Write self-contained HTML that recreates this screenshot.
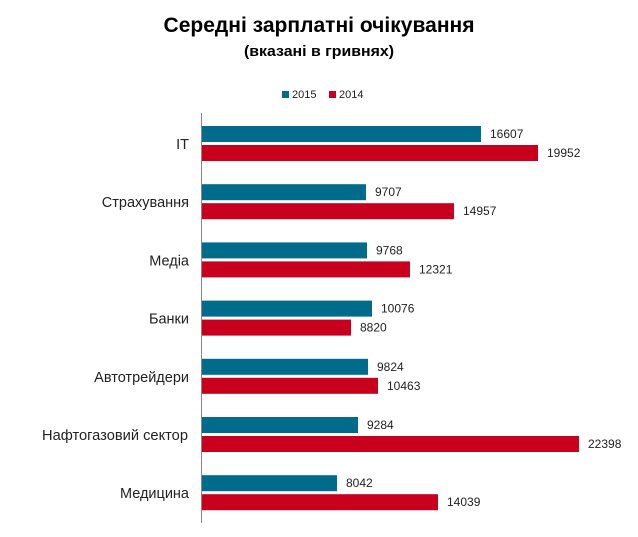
<!DOCTYPE html>
<html><head><meta charset="utf-8"><style>
body{margin:0;background:#fff;}
svg{display:block;font-family:"Liberation Sans",Arial,sans-serif;}
</style></head><body>
<svg width="638" height="537" xmlns="http://www.w3.org/2000/svg">
<text x="319" y="32" font-size="21" font-weight="bold" text-anchor="middle" fill="#000" textLength="311" lengthAdjust="spacingAndGlyphs">Середні зарплатні очікування</text>
<text x="319" y="56" font-size="15" font-weight="bold" text-anchor="middle" fill="#000" textLength="150" lengthAdjust="spacingAndGlyphs">(вказані в гривнях)</text>
<rect x="282" y="91" width="7" height="7" fill="#006b8a"/>
<text x="292" y="98" font-size="11" fill="#222">2015</text>
<rect x="329" y="91" width="7" height="7" fill="#c8001e"/>
<text x="339" y="98" font-size="11" fill="#222">2014</text>
<line x1="201.5" y1="113" x2="201.5" y2="523" stroke="#888" stroke-width="1"/>
<g font-size="12" fill="#222">
<g transform="translate(0,0)">
<rect x="202" y="126" width="279" height="16" fill="#006b8a"/><rect x="202" y="145" width="336" height="16" fill="#c8001e"/>
<text x="490" y="138">16607</text><text x="547" y="157">19952</text>
<text x="189" y="149" font-size="14.5" text-anchor="end">IT</text></g>
<g transform="translate(0,58.2)">
<rect x="202" y="126" width="164" height="16" fill="#006b8a"/><rect x="202" y="145" width="252" height="16" fill="#c8001e"/>
<text x="375" y="138">9707</text><text x="463" y="157">14957</text>
<text x="189" y="149" font-size="14.5" text-anchor="end">Страхування</text></g>
<g transform="translate(0,116.4)">
<rect x="202" y="126" width="165" height="16" fill="#006b8a"/><rect x="202" y="145" width="208" height="16" fill="#c8001e"/>
<text x="376" y="138">9768</text><text x="419" y="157">12321</text>
<text x="189" y="149" font-size="14.5" text-anchor="end">Медіа</text></g>
<g transform="translate(0,174.6)">
<rect x="202" y="126" width="170" height="16" fill="#006b8a"/><rect x="202" y="145" width="149" height="16" fill="#c8001e"/>
<text x="381" y="138">10076</text><text x="360" y="157">8820</text>
<text x="189" y="149" font-size="14.5" text-anchor="end">Банки</text></g>
<g transform="translate(0,232.8)">
<rect x="202" y="126" width="166" height="16" fill="#006b8a"/><rect x="202" y="145" width="176" height="16" fill="#c8001e"/>
<text x="377" y="138">9824</text><text x="387" y="157">10463</text>
<text x="189" y="149" font-size="14.5" text-anchor="end">Автотрейдери</text></g>
<g transform="translate(0,291)">
<rect x="202" y="126" width="156" height="16" fill="#006b8a"/><rect x="202" y="145" width="377" height="16" fill="#c8001e"/>
<text x="367" y="138">9284</text><text x="588" y="157">22398</text>
<text x="188" y="149" font-size="14.5" text-anchor="end" textLength="146" lengthAdjust="spacingAndGlyphs">Нафтогазовий сектор</text></g>
<g transform="translate(0,349.2)">
<rect x="202" y="126" width="135" height="16" fill="#006b8a"/><rect x="202" y="145" width="236" height="16" fill="#c8001e"/>
<text x="346" y="138">8042</text><text x="447" y="157">14039</text>
<text x="189" y="149" font-size="14.5" text-anchor="end">Медицина</text></g>
</g>
</svg>
</body></html>
